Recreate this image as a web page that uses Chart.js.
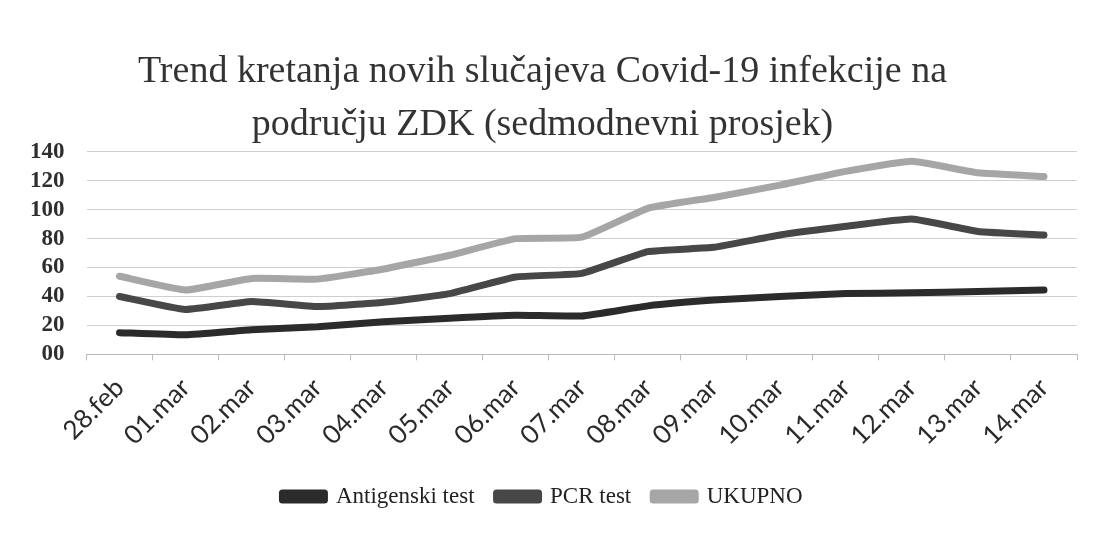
<!DOCTYPE html>
<html>
<head>
<meta charset="utf-8">
<script src="https://cdn.jsdelivr.net/npm/chart.js@4/dist/chart.umd.min.js"></script>
<style>
	html, body { margin: 0; padding: 0; background: #fff; }
	#wrap { width: 1095px; height: 533px; position: relative; }
</style>
</head>
<body>
<div id="wrap"><canvas id="trend-chart"></canvas></div>
<script>
// dates on the x axis
var days = ['28.feb', '01.mar', '02.mar', '03.mar', '04.mar', '05.mar', '06.mar', '07.mar',
	'08.mar', '09.mar', '10.mar', '11.mar', '12.mar', '13.mar', '14.mar'];

// seven-day averages
var antigenski = [15, 13.5, 17, 19, 22.5, 25, 27, 26.5, 33.5, 37.5, 40, 42, 42.5, 43.5, 44.5];
var pcr = [40, 31, 36.5, 33, 36, 42, 53.5, 56, 71, 74, 82.5, 88.5, 93.5, 85, 82.5];
var ukupno = [54, 44.5, 52.5, 52, 59, 68.5, 80, 81, 101, 108.5, 117, 126.5, 133.5, 125.5, 123];

var yTicks = [0, 20, 40, 60, 80, 100, 120, 140];

var serif = "'Liberation Serif', 'DejaVu Serif', serif";

function makeSet(label, values, color) {
	return {
		label: label,
		data: values,
		borderColor: color,
		backgroundColor: color,
		borderWidth: 7,
		pointRadius: 0,
		pointHoverRadius: 0,
		tension: 0.12,
		borderCapStyle: 'round',
		borderJoinStyle: 'round',
		fill: false
	};
}

var ctx = document.getElementById('trend-chart');
var trendChart = new Chart(ctx, {
	type: 'line',
	data: {
		labels: days,
		datasets: [
			makeSet('Antigenski test', antigenski, '#2b2b2b'),
			makeSet('PCR test', pcr, '#474747'),
			makeSet('UKUPNO', ukupno, '#a6a6a6')
		]
	},
	options: {
		responsive: true,
		maintainAspectRatio: false,
		animation: false,
		layout: {
			padding: { left: 8, right: 18, top: 0, bottom: 15 }
		},
		plugins: {
			title: {
				display: true,
				text: ['Trend kretanja novih slučajeva Covid-19 infekcije na', 'području ZDK (sedmodnevni prosjek)'],
				color: '#333333',
				font: { family: serif, size: 38, weight: 'normal', lineHeight: 1.38 },
				padding: { top: 46, bottom: 1 }
			},
			legend: {
				display: true,
				position: 'bottom',
				labels: {
					color: '#222',
					boxWidth: 42,
					boxHeight: 7,
					padding: 22,
					font: { family: serif, size: 23 }
				}
			},
			tooltip: { enabled: false }
		},
		scales: {
			x: {
				offset: true,
				grid: {
					offset: true,
					drawOnChartArea: false,
					drawTicks: true,
					tickLength: 6,
					color: '#bbbbbb'
				},
				border: { display: true, color: '#bbbbbb', width: 1 },
				ticks: {
					minRotation: 45,
					maxRotation: 45,
					autoSkip: false,
					color: '#2a2a2a',
					padding: 12,
					font: { family: "Lato, 'Open Sans', sans-serif", size: 26, weight: 'normal' }
				}
			},
			y: {
				min: 0,
				max: 140,
				afterBuildTicks: function(axis) {
					axis.ticks = yTicks.map(function(v) { return { value: v }; });
				},
				grid: { color: '#cfcfcf', lineWidth: 1, drawTicks: false },
				border: { display: false },
				ticks: {
					autoSkip: false,
					color: '#2e2e2e',
					padding: 22,
					font: { family: serif, size: 23, weight: 'bold' },
					callback: function(value) {
						return value === 0 ? '00' : value;
					}
				}
			}
		}
	}
});
</script>
</body>
</html>
